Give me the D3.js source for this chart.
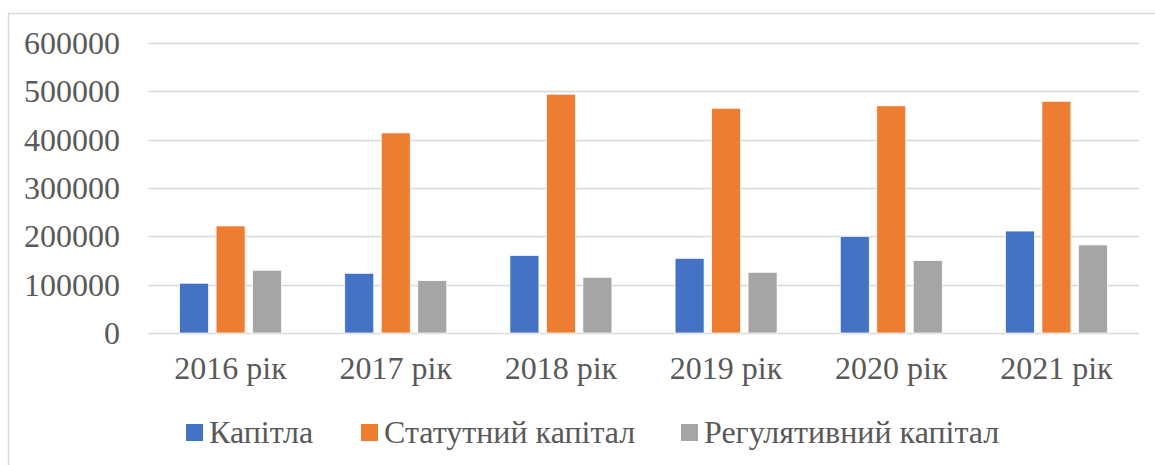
<!DOCTYPE html>
<html>
<head>
<meta charset="utf-8">
<script src="https://cdn.jsdelivr.net/npm/d3@7"></script>
<style>
  body { margin: 0; background: #fff; }
  svg text { font-family: "Liberation Serif", Tinos, "DejaVu Serif", serif; fill: #595959; }
</style>
</head>
<body>
<figure id="chart" style="margin:0"></figure>
<script>
// chart data
const years = ["2016 рік", "2017 рік", "2018 рік", "2019 рік", "2020 рік", "2021 рік"];
const seriesNames = ["Капітла", "Статутний капітал", "Регулятивний капітал"];
const kapitla = [103000, 123500, 160500, 154500, 200000, 211000];
const statutnyi = [221500, 414000, 494000, 465000, 470000, 479500];
const rehuliatyvnyi = [129800, 108300, 115300, 125600, 149800, 182200];
const yTicks = [0, 100000, 200000, 300000, 400000, 500000, 600000];

const colors = ["#4472C4", "#ED7D31", "#A5A5A5"];
const seriesValues = [kapitla, statutnyi, rehuliatyvnyi];

const width = 1155, height = 465;
const plot = { left: 148, right: 1139, top: 43, bottom: 333 };
const fontSize = "32px";

const svg = d3.select("#chart")
  .append("svg")
  .attr("width", width)
  .attr("height", height);

// outer chart border (cropped on the right and bottom)
svg.append("path")
  .attr("d", `M8.5,${height + 2} V13.5 H${width + 2}`)
  .attr("fill", "none")
  .attr("stroke", "#d9d9d9")
  .attr("stroke-width", 1.5);

const x = d3.scaleBand()
  .domain(years)
  .range([plot.left, plot.right]);

const groupWidth = 102;
const xInner = d3.scaleBand()
  .domain(seriesNames)
  .range([0, groupWidth])
  .paddingInner(0.205);

const y = d3.scaleLinear()
  .domain([0, 600000])
  .range([plot.bottom, plot.top]);

// gridlines
svg.append("g")
  .selectAll("line")
  .data(yTicks)
  .enter()
  .append("line")
  .attr("x1", plot.left)
  .attr("x2", plot.right)
  .attr("y1", d => Math.round(y(d)) + 0.5)
  .attr("y2", d => Math.round(y(d)) + 0.5)
  .attr("stroke", "#d9d9d9")
  .attr("stroke-width", 1.3);

// y labels
svg.append("g")
  .selectAll("text")
  .data(yTicks)
  .enter()
  .append("text")
  .attr("x", 120)
  .attr("y", d => y(d))
  .attr("dy", "0.34em")
  .attr("text-anchor", "end")
  .style("font-size", fontSize)
  .text(d => d);

// bars
const rows = years.map((yr, i) => ({ year: yr, values: seriesNames.map((s, j) => ({ name: s, value: seriesValues[j][i], color: colors[j] })) }));

const groups = svg.append("g")
  .selectAll("g")
  .data(rows)
  .enter()
  .append("g")
  .attr("transform", d => `translate(${x(d.year) + (x.bandwidth() - groupWidth) / 2},0)`);

groups.selectAll("rect")
  .data(d => d.values)
  .enter()
  .append("rect")
  .attr("x", d => xInner(d.name))
  .attr("width", xInner.bandwidth())
  .attr("y", d => y(d.value))
  .attr("height", d => y(0) - y(d.value))
  .attr("fill", d => d.color)
  .attr("stroke", "#ffffff")
  .attr("stroke-width", 0.75);

// x labels
svg.append("g")
  .selectAll("text")
  .data(years)
  .enter()
  .append("text")
  .attr("x", d => x(d) + x.bandwidth() / 2)
  .attr("y", 379)
  .attr("text-anchor", "middle")
  .style("font-size", fontSize)
  .text(d => d);

// legend
const legendX = [186, 361, 681];
const legend = svg.append("g")
  .selectAll("g")
  .data(seriesNames)
  .enter()
  .append("g")
  .attr("transform", (d, i) => `translate(${legendX[i]},424)`);

legend.append("rect")
  .attr("width", 17)
  .attr("height", 17)
  .attr("fill", (d, i) => colors[i]);

legend.append("text")
  .attr("x", 23)
  .attr("y", 19)
  .style("font-size", fontSize)
  .text(d => d);
</script>
</body>
</html>
